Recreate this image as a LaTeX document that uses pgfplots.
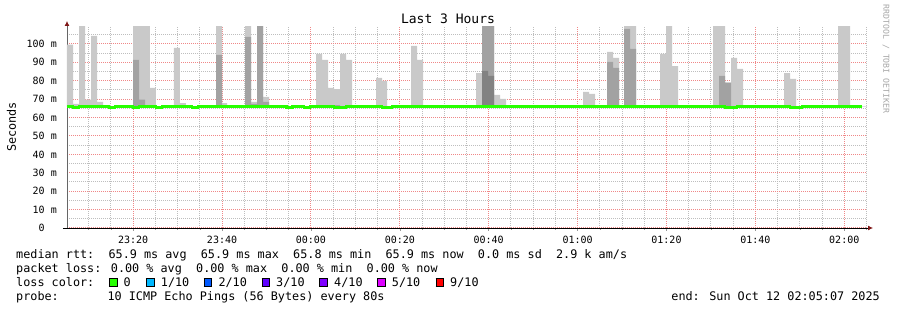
\documentclass[border=0pt]{standalone}
\usepackage{pgfplots}
\pgfplotsset{compat=1.18}
\usetikzlibrary{arrows.meta}
\usepackage{fontspec}
\setmainfont{DejaVu Sans Mono}
\setmonofont{DejaVu Sans Mono}
\definecolor{smokeA}{HTML}{C9C9C9}
\definecolor{smokeB}{HTML}{A2A2A2}
\definecolor{smokeC}{HTML}{828282}
\definecolor{med}{HTML}{26FF00}
\definecolor{lossA}{HTML}{00B8FF}
\definecolor{lossB}{HTML}{0059FF}
\definecolor{lossC}{HTML}{5E00FF}
\definecolor{lossD}{HTML}{7E00FF}
\definecolor{lossE}{HTML}{DD00FF}
\definecolor{lossF}{HTML}{FF0000}
\definecolor{mgrid}{RGB}{240,135,135}
\definecolor{ngrid}{RGB}{190,190,190}
\definecolor{arrowc}{HTML}{801818}
\newcommand\legf{\fontsize{11.8}{14}\selectfont}
\newcommand\tickf{\fontsize{10}{12}\selectfont}
\newcommand\sw[1]{{\setlength\fboxsep{0pt}\setlength\fboxrule{0.8pt}\fcolorbox{black}{#1}{\rule{0pt}{7pt}\rule{7pt}{0pt}}}}
\begin{document}
\begin{tikzpicture}
\path[use as bounding box] (-67pt,-82pt) rectangle (830pt,228pt);
\begin{axis}[
  scale only axis, width=800pt, height=201pt,
  at={(0pt,0pt)}, anchor=south west,
  xmin=5.117, xmax=185.117, ymin=0, ymax=109.2,
  axis lines=left,
  x axis line style={black, line width=0.8pt, shorten <=-4pt, shorten >=-6pt, -{Latex[length=5pt,width=5pt,color=arrowc]}},
  y axis line style={black!60, line width=0.8pt, shorten >=-6pt, -{Latex[length=5pt,width=5pt,color=arrowc]}},
  xtick={20,40,...,180},
  xticklabels={23:20,23:40,00:00,00:20,00:40,01:00,01:20,01:40,02:00},
  minor xtick={10,15,25,30,35,45,50,55,65,70,75,85,90,95,105,110,115,125,130,135,145,150,155,165,170,175,185},
  ytick={0,10,...,100},
  yticklabels={0\phantom{xx},10 m,20 m,30 m,40 m,50 m,60 m,70 m,80 m,90 m,100 m},
  minor ytick={5,15,...,105},
  grid=both,
  major grid style={mgrid, line width=1pt, dash pattern=on 1pt off 1pt},
  minor grid style={ngrid, line width=1pt, dash pattern=on 1pt off 1pt},
  tick align=outside,
  xtick style={black!40, line width=0.6pt},
  ytick style={draw=none},
  major tick length=3pt, minor tick length=2pt,
  xticklabel style={font=\tickf, anchor=base, inner sep=0pt, yshift=-13pt},
  yticklabel style={font=\tickf, anchor=east, inner sep=0pt, xshift=-7pt},
]
% smoke layer 1: highest ping
\addplot[const plot, fill=smokeA, draw=none] coordinates {
(5.117,65.9) (5.117,99.6) (6.47,67.4) (7.82,115) (9.17,69.7) (10.52,104.4) (11.87,68.5) (13.22,65.9)
(20.0,115) (23.79,76.1) (25.14,65.9)
(29.19,97.8) (30.54,67.9) (31.89,65.9)
(38.65,115) (40.0,67.9) (41.12,65.9)
(45.17,115) (46.52,68.5) (47.87,115) (49.22,71.2) (50.57,65.9)
(61.15,94.6) (62.50,91.3) (63.85,76.1) (65.20,75.5) (66.55,94.6) (67.90,91.3) (69.25,65.9)
(74.65,81.5) (76.0,79.9) (77.12,65.9)
(82.53,98.9) (83.88,91.3) (85.23,65.9)
(97.15,84.2) (98.50,115) (101.20,72.3) (102.55,70.1) (103.90,65.9)
(121.23,73.9) (122.58,72.8) (123.93,65.9)
(126.63,95.7) (127.98,92.4) (129.33,65.9)
(130.46,115) (133.16,65.9)
(138.56,94.6) (139.91,115) (141.26,88.0) (142.61,65.9)
(150.48,115) (153.18,79.0) (154.53,92.4) (155.89,86.4) (157.24,65.9)
(166.46,84.2) (167.81,81.0) (169.16,65.9)
(178.61,115) (181.31,65.9) (185.117,65.9)
} -- cycle;
% smoke layer 2
\addplot[const plot, fill=smokeB, draw=none] coordinates {
(5.117,65.9) (20.0,91.3) (21.32,69.7) (22.67,65.9)
(29.19,66.8) (30.54,65.9)
(38.65,94.0) (40.0,65.9)
(45.17,103.8) (46.52,67.4) (47.87,115) (49.22,68.5) (50.57,65.9)
(65.20,66.8) (66.55,65.9)
(98.50,115) (101.20,65.9)
(126.63,90.2) (127.98,87.0) (129.33,65.9)
(130.46,108.2) (131.81,97.3) (133.16,65.9)
(151.83,82.6) (153.18,79.0) (154.53,65.9) (185.117,65.9)
} -- cycle;
% smoke layer 3
\addplot[const plot, fill=smokeC, draw=none] coordinates {
(5.117,65.9) (98.50,85.3) (99.85,82.6) (101.20,65.9) (185.117,65.9)
} -- cycle;
% median rtt
\addplot[const plot, draw=med, line width=2.5pt] coordinates {
(5.117,65.9) (6.47,65.4) (7.82,65.9) (14.57,65.4) (15.92,65.9) (20.0,65.4) (21.32,65.9)
(25.14,65.4) (26.49,65.9) (33.24,65.4) (34.59,65.9) (54.55,65.4) (55.9,65.9)
(58.45,65.4) (59.8,65.9) (65.20,65.4) (67.90,65.9) (76.0,65.4) (78.2,65.9)
(153.18,65.4) (155.89,65.9) (167.81,65.4) (170.5,65.9) (183.95,65.9)
};
\end{axis}
\begin{scope}[x=1pt,y=-1pt,shift={(-67pt,228pt)}]
\node[anchor=base, inner sep=0pt, font=\fontsize{13}{15}\selectfont] at (448,24) {Last 3 Hours};
\node[rotate=90, inner sep=0pt, font=\legf] at (11.5,127) {Seconds};
\node[rotate=-90, inner sep=0pt, text=black!35, font=\fontsize{8.2}{10}\selectfont] at (886,59) {RRDTOOL / TOBI OETIKER};
\node[anchor=base west, inner sep=0pt, font=\legf] at (16,258.3) {median rtt:\ \ 65.9 ms avg\ \ 65.9 ms max\ \ 65.8 ms min\ \ 65.9 ms now\ \ 0.0 ms sd\ \ 2.9 k am/s};
\node[anchor=base west, inner sep=0pt, font=\legf] at (16,272.3) {packet loss: 0.00 \% avg\ \ 0.00 \% max\ \ 0.00 \% min\ \ 0.00 \% now};
\node[anchor=base west, inner sep=0pt, font=\legf] at (16,286.3) {loss color:};
\node[anchor=base west, inner sep=0pt, font=\legf] at (108.7,286.3) {\sw{med}};
\node[anchor=base west, inner sep=0pt, font=\legf] at (123.3,286.3) {0};
\node[anchor=base west, inner sep=0pt, font=\legf] at (145.7,286.3) {\sw{lossA}};
\node[anchor=base west, inner sep=0pt, font=\legf] at (160.7,286.3) {1/10};
\node[anchor=base west, inner sep=0pt, font=\legf] at (203.3,286.3) {\sw{lossB}};
\node[anchor=base west, inner sep=0pt, font=\legf] at (218.3,286.3) {2/10};
\node[anchor=base west, inner sep=0pt, font=\legf] at (261.3,286.3) {\sw{lossC}};
\node[anchor=base west, inner sep=0pt, font=\legf] at (276,286.3) {3/10};
\node[anchor=base west, inner sep=0pt, font=\legf] at (319,286.3) {\sw{lossD}};
\node[anchor=base west, inner sep=0pt, font=\legf] at (334,286.3) {4/10};
\node[anchor=base west, inner sep=0pt, font=\legf] at (377,286.3) {\sw{lossE}};
\node[anchor=base west, inner sep=0pt, font=\legf] at (391.7,286.3) {5/10};
\node[anchor=base west, inner sep=0pt, font=\legf] at (435.3,286.3) {\sw{lossF}};
\node[anchor=base west, inner sep=0pt, font=\legf] at (450,286.3) {9/10};
\node[anchor=base west, inner sep=0pt, font=\legf] at (16,300.3) {probe:};
\node[anchor=base west, inner sep=0pt, font=\legf] at (107.3,300.3) {10 ICMP Echo Pings (56 Bytes) every 80s};
\node[anchor=base east, inner sep=0pt, font=\legf] at (880,300.3) {end: Sun Oct 12 02:05:07 2025};
\end{scope}
\end{tikzpicture}
\end{document}
